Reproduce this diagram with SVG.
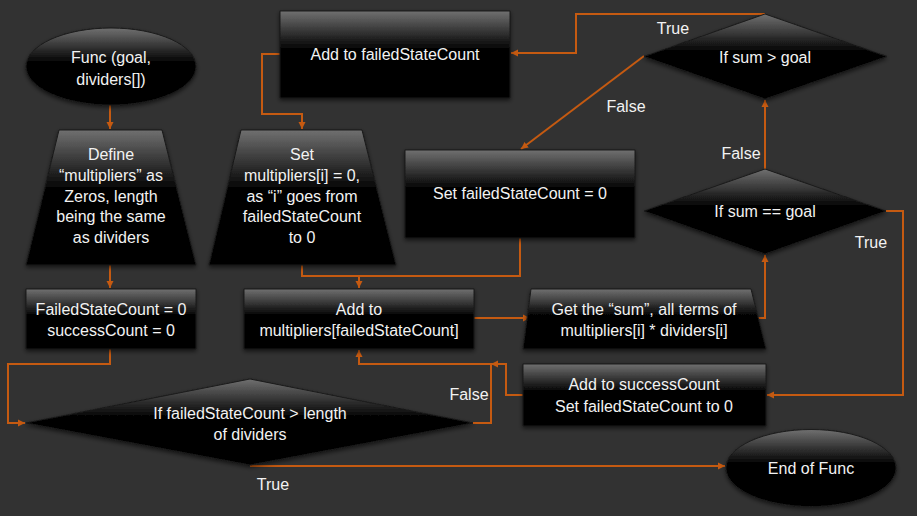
<svg xmlns="http://www.w3.org/2000/svg" width="917" height="516" viewBox="0 0 917 516">
<style>
.n{fill:url(#g);stroke:#1a1a1a;stroke-width:1;filter:url(#sh)}
.t{font-family:"Liberation Sans",Arial,sans-serif;font-size:16px;fill:#f2f2f2;text-anchor:middle;dominant-baseline:central}
.c{fill:none;stroke:#c55a11;stroke-width:2;marker-end:url(#ah)}
.l{font-family:"Liberation Sans",Arial,sans-serif;font-size:16px;fill:#f2f2f2;text-anchor:middle;dominant-baseline:central}
</style>
<defs>
<linearGradient id="g" x1="0" y1="0" x2="0" y2="1">
<stop offset="0" stop-color="#707070"/>
<stop offset="0.45" stop-color="#000"/>
<stop offset="1" stop-color="#000"/>
</linearGradient>
<filter id="sh" x="-10%" y="-10%" width="120%" height="130%">
<feDropShadow dx="0" dy="2" stdDeviation="2" flood-color="#000" flood-opacity="0.6"/>
</filter>
<marker id="ah" markerUnits="userSpaceOnUse" markerWidth="8" markerHeight="8" refX="7" refY="4" orient="auto">
<path d="M0,0.5 L7,4 L0,7.5 Z" fill="#c55a11"/>
</marker>
</defs>
<rect width="917" height="516" fill="#323232"/>
<g id="connectors">
<path class="c" d="M110,105 V129"/>
<path class="c" d="M110,265 V288"/>
<path class="c" d="M110,349 V364 H8 V423 H25"/>
<path class="c" d="M280,54 H262 V114 H302 V129"/>
<path class="c" d="M302,265 V276 H520 V238"  style="marker-end:none"/>
<path class="c" d="M359,276 V288"/>
<path class="c" d="M474,318 H530"/>
<path class="c" d="M757,318 H765 V255"/>
<path class="c" d="M765,169 V100"/>
<path class="c" d="M765,14 H576 V53 H511"/>
<path class="c" d="M644,56 L521,149"/>
<path class="c" d="M886,211 H903 V395 H767"/>
<path class="c" d="M523,395 H506 V364 H491"/>
<path class="c" d="M473,423 H491 V364 H359 V350"/>
<path class="c" d="M250,466 H725"/>
<text class="l" x="673" y="28">True</text>
<text class="l" x="626" y="106">False</text>
<text class="l" x="741" y="153">False</text>
<text class="l" x="871" y="242">True</text>
<text class="l" x="469" y="394">False</text>
<text class="l" x="273" y="484">True</text>
</g>
<g id="start">
<ellipse class="n" cx="111" cy="66.5" rx="85" ry="38.5"/>
<text class="t" x="111" y="57">Func (goal,</text>
<text class="t" x="111" y="79">dividers[])</text>
</g>
<g id="define">
<path class="n" d="M59,130 H162 L196,265 H26 Z"/>
<text class="t" x="111" y="154">Define</text>
<text class="t" x="111" y="175">“multipliers” as</text>
<text class="t" x="111" y="196">Zeros, length</text>
<text class="t" x="111" y="216">being the same</text>
<text class="t" x="111" y="237">as dividers</text>
</g>
<g id="init">
<rect class="n" x="26" y="289" width="170" height="60"/>
<text class="t" x="111" y="309">FailedStateCount = 0</text>
<text class="t" x="111" y="330">successCount = 0</text>
</g>
<g id="setmult">
<path class="n" d="M241,130 H362 L396,265 H209 Z"/>
<text class="t" x="302" y="154">Set</text>
<text class="t" x="302" y="175">multipliers[i] = 0,</text>
<text class="t" x="302" y="196">as “i” goes from</text>
<text class="t" x="302" y="216">failedStateCount</text>
<text class="t" x="302" y="237">to 0</text>
</g>
<g id="addfailed">
<rect class="n" x="280" y="11" width="230" height="87"/>
<text class="t" x="395" y="54">Add to failedStateCount</text>
</g>
<g id="setfailed">
<rect class="n" x="405" y="150" width="230" height="88"/>
<text class="t" x="520" y="193">Set failedStateCount = 0</text>
</g>
<g id="addmult">
<rect class="n" x="244" y="289" width="230" height="60"/>
<text class="t" x="359" y="309">Add to</text>
<text class="t" x="359" y="330">multipliers[failedStateCount]</text>
</g>
<g id="getsum">
<path class="n" d="M531,289 H751 L766,349 H523 Z"/>
<text class="t" x="644" y="309">Get the “sum”, all terms of</text>
<text class="t" x="644" y="330">multipliers[i] * dividers[i]</text>
</g>
<g id="addsuccess">
<rect class="n" x="523" y="364" width="243" height="62"/>
<text class="t" x="644" y="384">Add to successCount</text>
<text class="t" x="644" y="406">Set failedStateCount to 0</text>
</g>
<g id="sumgt">
<path class="n" d="M765,14 L887,56.5 L765,99 L644,56.5 Z"/>
<text class="t" x="765" y="57">If sum &gt; goal</text>
</g>
<g id="sumeq">
<path class="n" d="M765,169 L886,211 L765,254 L644,211 Z"/>
<text class="t" x="765" y="211">If sum == goal</text>
</g>
<g id="checklen">
<path class="n" d="M250,379 L473,423 L250,465 L26,423 Z"/>
<text class="t" x="250" y="413">If failedStateCount &gt; length</text>
<text class="t" x="250" y="434">of dividers</text>
</g>
<g id="end">
<ellipse class="n" cx="811" cy="468" rx="85" ry="38.5"/>
<text class="t" x="811" y="468">End of Func</text>
</g>
</svg>
